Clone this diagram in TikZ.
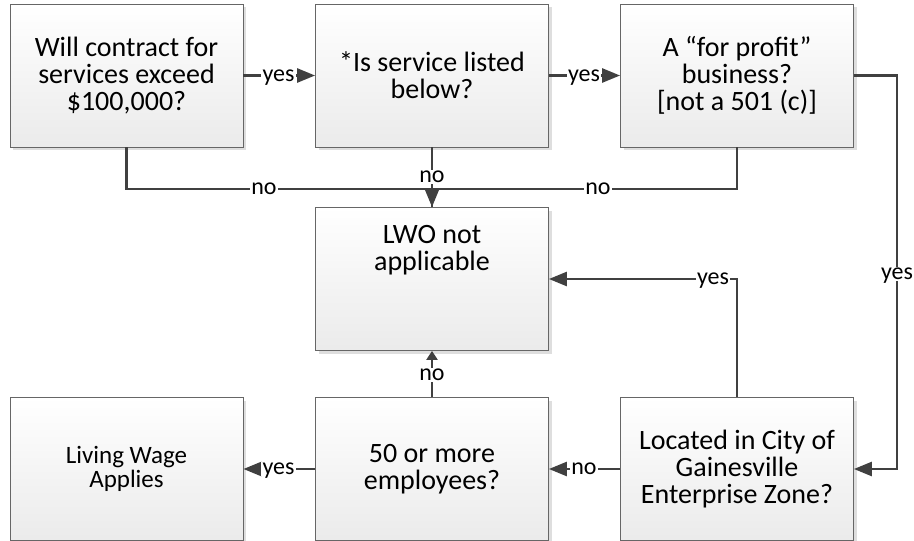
\documentclass[tikz,border=0pt]{standalone}
\usepackage{fontspec}
\setmainfont{Carlito}
\usetikzlibrary{arrows.meta,shadows}
\begin{document}
\begin{tikzpicture}[x=1pt,y=-1pt,
 box/.style={draw=black!60, line width=0.8pt, top color=white, bottom color=black!8,
   minimum width=233pt, minimum height=143pt, inner sep=0pt, align=center,
   font=\fontsize{28}{27}\selectfont,
   drop shadow={shadow xshift=3pt, shadow yshift=-3pt, opacity=1, fill=black!13}},
 conn/.style={draw=black!75, line width=2.6pt},
 arr/.style={conn, -{Triangle[length=18pt,width=14pt]}},
 smallarr/.style={conn, -{Triangle[length=9pt,width=11pt]}},
 lab/.style={fill=white, inner sep=1.5pt, text depth=0pt, font=\fontsize{24}{24}\selectfont, text=black}
]
\useasboundingbox (0,0) rectangle (914,541);

\node[box] (b1) at (126.5,75.5) {Will contract for\\services exceed\\\$100,000?};
\node[box] (b2) at (432,75.5) {*Is service listed\\below?};
\node[box] (b3) at (737,75.5) {A “for profit”\\business?\\ {[not a 501 (c)]}};
\node[box] (lwo) at (432,279) {};
\node[align=center, font=\fontsize{28}{27}\selectfont] (lwotext) at (432,250) {LWO not\\applicable};
\node[box, font=\fontsize{25}{24}\selectfont] (living) at (126.5,469) {Living Wage\\Applies};
\node[box] (fifty) at (432,469) {50 or more\\employees?};
\node[box] (loc) at (737,469) {Located in City of\\Gainesville\\Enterprise Zone?};

% top row yes arrows
\draw[arr] (b1.east) -- (b2.west) node[lab] at (278.5,75.5) {yes};
\draw[arr] (b2.east) -- (b3.west) node[lab] at (584,75.5) {yes};

% no paths into LWO
\draw[conn] (b1.south) -- (b1.south |- 0,189) -| (lwo.north) node[lab] at (264,189) {no};
\draw[conn] (b3.south) -- (b3.south |- 0,189) -| (lwo.north) node[lab] at (598,189) {no};
\draw[arr] (b2.south) -- (lwo.north) node[lab] at (432,177) {no};

% b3 -> loc
\coordinate (rc) at (897,75.5);
\draw[arr] (b3.east) -- (rc) |- (loc.east) node[lab] at (897,274) {yes};

% loc -> lwo
\draw[arr] (loc.north) |- (lwo.east) node[lab] at (713,279) {yes};

% loc -> fifty
\draw[arr] (loc.west) -- (fifty.east) node[lab] at (584,469) {no};

% fifty -> lwo
\draw[smallarr] (fifty.north) -- (lwo.south) node[lab] at (432,375) {no};

% fifty -> living
\draw[arr] (fifty.west) -- (living.east) node[lab] at (278.5,469) {yes};
\end{tikzpicture}
\end{document}
